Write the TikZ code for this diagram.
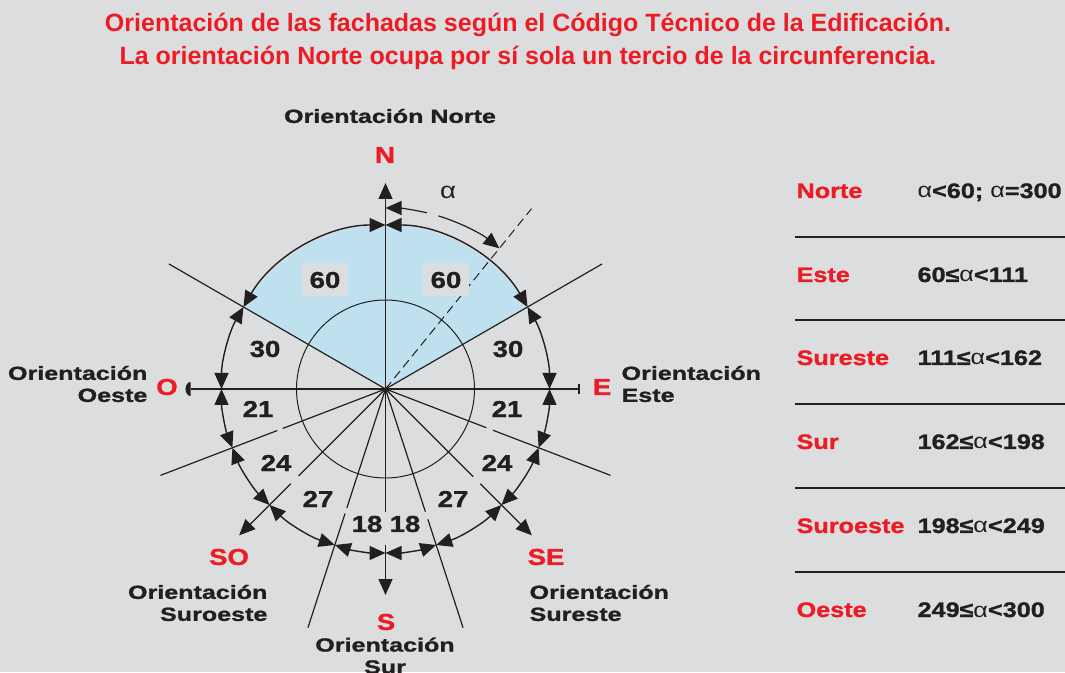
\documentclass[tikz,border=0pt]{standalone}
\usepackage{fontspec}
\setmainfont{Liberation Sans}
\newfontfamily\heavyfont[FakeStretch=1.2, BoldFeatures={FakeBold=1.2}]{Liberation Sans}
\newfontfamily\widefont[FakeStretch=1.32, BoldFeatures={FakeBold=1.2}]{Liberation Sans}
\usetikzlibrary{arrows,arrows.meta,calc,positioning}
\definecolor{bggray}{HTML}{DCDDDF}
\definecolor{titlered}{HTML}{ED1C24}
\definecolor{inkblack}{HTML}{231F20}
\definecolor{skyblue}{HTML}{BFE1EF}
\newcommand\alfa{{\mdseries α}}
\tikzset{tri/.tip={Triangle[length=16pt,width=14pt]}}

\begin{document}
\begin{tikzpicture}
[x=1pt, y=1pt, color=inkblack, line width=1.2pt,
num/.style={font=\heavyfont\bfseries\fontsize{23}{26}\selectfont, text=inkblack, inner sep=1pt},
numbox/.style={num, fill=bggray, minimum width=46pt, minimum height=33pt},
card/.style={font=\heavyfont\bfseries\fontsize{23}{26}\selectfont, text=titlered, inner sep=0pt},
orient/.style={font=\widefont\bfseries\fontsize{19}{22}\selectfont, text=inkblack, inner sep=0pt},
rowlbl/.style={font=\heavyfont\bfseries\fontsize{21}{24}\selectfont, text=titlered, anchor=base west, inner sep=0pt},
rowval/.style={font=\heavyfont\bfseries\fontsize{21}{24}\selectfont, text=inkblack, anchor=base west, inner sep=0pt},
dim/.style={tri-tri, line width=1.4pt}
]

\fill[bggray] (0,0) rectangle (1065,672);
\useasboundingbox (0,0) rectangle (1065,672);

\node[font=\bfseries\fontsize{25}{33}\selectfont, text=titlered, align=center] (title) at (528,631)
  {Orientación de las fachadas según el Código Técnico de la Edificación.\\
   La orientación Norte ocupa por sí sola un tercio de la circunferencia.};

% compass
\coordinate (c) at (385.5,283);

\fill[skyblue] (c) -- ($(c)+(150:164pt)$) arc[start angle=150, end angle=30, radius=164pt] -- cycle;
\draw[line width=1pt] (c) circle[radius=89pt];

\coordinate (nTip) at ($(c)+(90:206pt)$);
\coordinate (eTip) at ($(c)+(0:194pt)$);
\coordinate (wTip) at ($(c)+(180:195pt)$);
\draw[-tri] (c) -- (nTip);
\draw[-{Bar[width=10pt]}] (c) -- (eTip);
\draw (c) -- (wTip);
\fill ($(wTip)+(0,7)$) arc[start angle=90, end angle=270, x radius=5pt, y radius=7pt] -- cycle;

\draw (c) -- ($(c)+(30:250pt)$);
\draw (c) -- ($(c)+(150:250pt)$);

\draw (c) -- ($(c)+(-21:108pt)$);
\draw ($(c)+(-21:115pt)$) -- ($(c)+(-21:241pt)$);
\draw (c) -- ($(c)+(201:110pt)$);
\draw ($(c)+(201:116pt)$) -- ($(c)+(201:241pt)$);

\draw (c) -- ($(c)+(-45:124pt)$);
\draw[-tri] ($(c)+(-45:134pt)$) -- ($(c)+(-45:207pt)$);
\draw (c) -- ($(c)+(-135:123pt)$);
\draw[-tri] ($(c)+(-135:134pt)$) -- ($(c)+(-135:207pt)$);

\draw (c) -- ($(c)+(-72:129pt)$);
\draw ($(c)+(-72:137pt)$) -- ($(c)+(-72:251pt)$);
\draw (c) -- ($(c)+(-108:125pt)$);
\draw ($(c)+(-108:131pt)$) -- ($(c)+(-108:251pt)$);

\draw (c) -- ($(c)+(-90:123pt)$);
\draw[-tri] ($(c)+(-90:156pt)$) -- ($(c)+(-90:206pt)$);

\draw[line width=1pt, dash pattern=on 9pt off 5pt] (c) -- ($(c)+(51:232pt)$);

% alpha
\draw[tri-] ($(c)+(90:181pt)$) arc[start angle=90, end angle=76.8, radius=181pt];
\draw[-tri] ($(c)+(73:181pt)$) arc[start angle=73, end angle=51, radius=181pt];

% sector arcs
\draw[dim] ($(c)+(90:164pt)$) arc[start angle=90, end angle=30, radius=164pt];
\draw[dim] ($(c)+(30:164pt)$) arc[start angle=30, end angle=0, radius=164pt];
\draw[dim] ($(c)+(0:164pt)$) arc[start angle=0, end angle=-21, radius=164pt];
\draw[dim] ($(c)+(-21:164pt)$) arc[start angle=-21, end angle=-45, radius=164pt];
\draw[dim] ($(c)+(-45:164pt)$) arc[start angle=-45, end angle=-72, radius=164pt];
\draw[dim] ($(c)+(-72:164pt)$) arc[start angle=-72, end angle=-90, radius=164pt];
\draw[dim] ($(c)+(-90:164pt)$) arc[start angle=-90, end angle=-108, radius=164pt];
\draw[dim] ($(c)+(-108:164pt)$) arc[start angle=-108, end angle=-135, radius=164pt];
\draw[dim] ($(c)+(-135:164pt)$) arc[start angle=-135, end angle=-159, radius=164pt];
\draw[dim] ($(c)+(-159:164pt)$) arc[start angle=-159, end angle=-180, radius=164pt];
\draw[dim] ($(c)+(-180:164pt)$) arc[start angle=-180, end angle=-210, radius=164pt];
\draw[dim] ($(c)+(-210:164pt)$) arc[start angle=-210, end angle=-270, radius=164pt];

\node[numbox] (n60l) at (325,392) {60};
\node[numbox] (n60r) at (446,392) {60};
\node[num] (n30l) at (265,323) {30};
\node[num] (n30r) at (508,323) {30};
\node[num] (n21l) at (258,263) {21};
\node[num] (n21r) at (507,263) {21};
\node[num] (n24l) at (276,209) {24};
\node[num] (n24r) at (497,209) {24};
\node[num] (n27l) at (318,173) {27};
\node[num] (n27r) at (453,173) {27};
\node[num] (n18l) at (367,148) {18};
\node[num] (n18r) at (405,148) {18};
\node[font=\heavyfont\fontsize{23}{26}\selectfont, inner sep=0pt] (alpha) at (448,480) {α};

\node[card] (cardN) at (385,517) {N};
\node[card] (cardO) at (167,285) {O};
\node[card] (cardE) at (602,285) {E};
\node[card] (cardSO) at (229,115) {SO};
\node[card] (cardSE) at (546,115) {SE};
\node[card] (cardS) at (386,50) {S};

\node[orient] (lblN) at (390,556) {Orientación Norte};
\node[orient, align=right, anchor=east] (lblO) at (148,288) {Orientación\\Oeste};
\node[orient, align=left, anchor=west] (lblE) at (621,288) {Orientación\\Este};
\node[orient, align=right, anchor=east] (lblSO) at (268,69) {Orientación\\Suroeste};
\node[orient, align=left, anchor=west] (lblSE) at (529,69) {Orientación\\Sureste};
\node[orient, align=center, anchor=north] (lblS) at (385,35) {Orientación\\Sur};

% table
\node[rowlbl] (rNorte) at (796,474) {Norte};
\node[rowlbl] (rEste) at (796,390) {Este};
\node[rowlbl] (rSureste) at (796,307) {Sureste};
\node[rowlbl] (rSur) at (796,223) {Sur};
\node[rowlbl] (rSuroeste) at (796,139) {Suroeste};
\node[rowlbl] (rOeste) at (796,55) {Oeste};

\node[rowval] (vNorte) at (917,474) {\alfa<60; \alfa=300};
\node[rowval] (vEste) at (917,390) {60≤\alfa<111};
\node[rowval] (vSureste) at (917,307) {111≤\alfa<162};
\node[rowval] (vSur) at (917,223) {162≤\alfa<198};
\node[rowval] (vSuroeste) at (917,139) {198≤\alfa<249};
\node[rowval] (vOeste) at (917,55) {249≤\alfa<300};

\draw[line width=2.5pt] (795,435) -- (1065,435);
\draw[line width=2.5pt] (795,352) -- (1065,352);
\draw[line width=2.5pt] (795,268) -- (1065,268);
\draw[line width=2.5pt] (795,184) -- (1065,184);
\draw[line width=2.5pt] (795,100) -- (1065,100);
\end{tikzpicture}
\end{document}
